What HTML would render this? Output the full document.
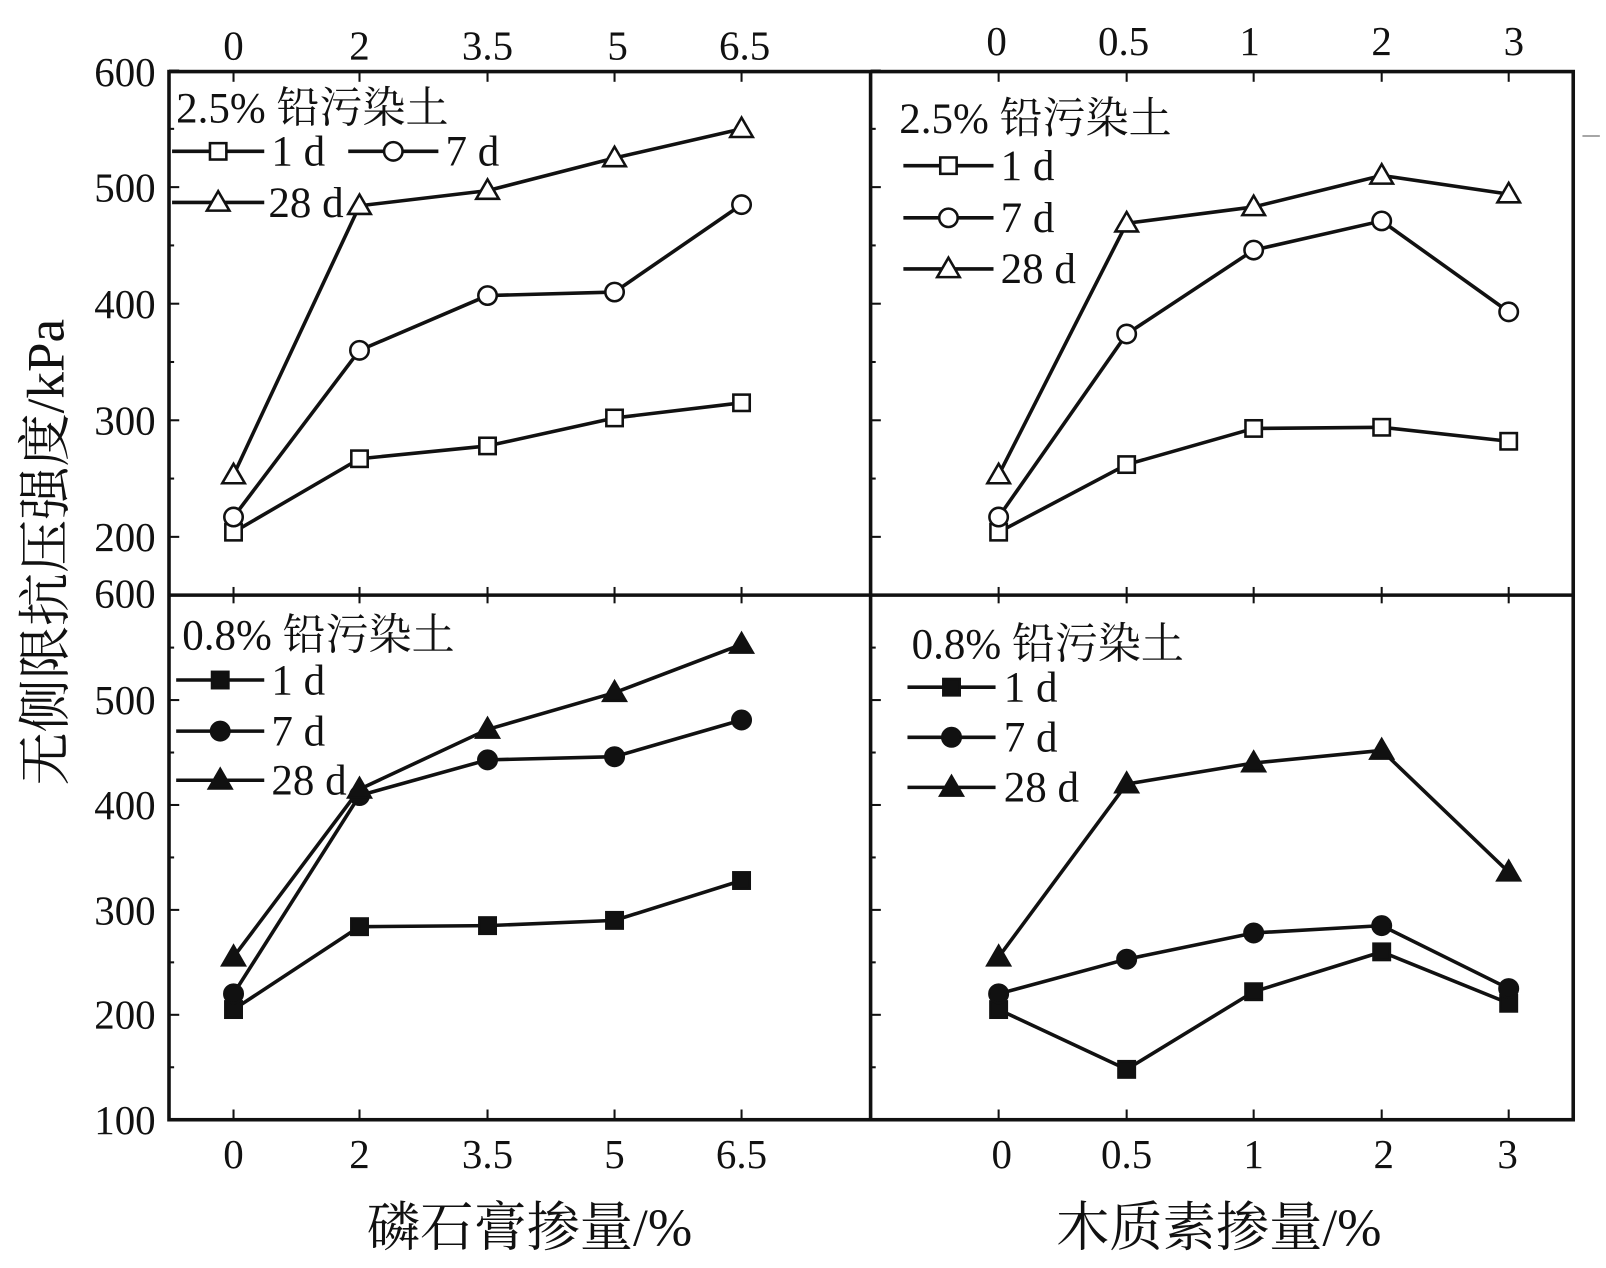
<!DOCTYPE html>
<html><head><meta charset="utf-8"><style>
html,body{margin:0;padding:0;background:#fff;}
svg{display:block;}
text{font-family:"Liberation Serif","Noto Serif CJK SC",serif;fill:#111;}
</style></head><body>
<svg id="s" width="1606" height="1268" viewBox="0 0 1568 1240" preserveAspectRatio="none" xmlns="http://www.w3.org/2000/svg">
<rect x="0" y="0" width="1568" height="1240" fill="#fff"/>
<g id="plot"></g>
<rect x="165" y="70" width="1371" height="1025" fill="none" stroke="#111" stroke-width="3.5"/>
<line x1="850" y1="70" x2="850" y2="1095" stroke="#111" stroke-width="3.5"/>
<line x1="165" y1="582" x2="1536" y2="582" stroke="#111" stroke-width="3.5"/>
<line x1="1545" y1="133" x2="1562" y2="133" stroke="#888" stroke-width="1.5"/>
<g font-size="40" text-anchor="middle">
<text x="228" y="58">0</text><text x="351" y="58">2</text><text x="476" y="58">3.5</text><text x="603" y="58">5</text><text x="727" y="58">6.5</text>
<text x="973" y="54">0</text><text x="1097" y="54">0.5</text><text x="1220" y="54">1</text><text x="1349" y="54">2</text><text x="1478" y="54">3</text>
<text x="228" y="1142">0</text><text x="351" y="1142">2</text><text x="476" y="1142">3.5</text><text x="600" y="1142">5</text><text x="724" y="1142">6.5</text>
<text x="978" y="1142">0</text><text x="1100" y="1142">0.5</text><text x="1224" y="1142">1</text><text x="1351" y="1142">2</text><text x="1472" y="1142">3</text>
</g>
<g font-size="40" text-anchor="end">
<text x="152" y="84">600</text><text x="152" y="197">500</text><text x="152" y="311">400</text><text x="152" y="425">300</text><text x="152" y="539">200</text>
<text x="152" y="594">600</text><text x="152" y="698">500</text><text x="152" y="801">400</text><text x="152" y="904">300</text><text x="152" y="1006">200</text><text x="152" y="1109">100</text>
</g>
<g font-size="42">
<text x="172" y="120">2.5% 铅污染土</text>
<text x="878" y="130">2.5% 铅污染土</text>
<text x="178" y="635">0.8% 铅污染土</text>
<text x="890" y="644">0.8% 铅污染土</text>
<text x="265" y="162">1 d</text><text x="435" y="162">7 d</text><text x="262" y="212">28 d</text>
<text x="977" y="176">1 d</text><text x="977" y="227">7 d</text><text x="977" y="277">28 d</text>
<text x="265" y="679">1 d</text><text x="265" y="729">7 d</text><text x="265" y="777">28 d</text>
<text x="980" y="686">1 d</text><text x="980" y="735">7 d</text><text x="980" y="784">28 d</text>
</g>
<g font-size="52" text-anchor="middle">
<text x="517" y="1218">磷石膏掺量/%</text>
<text x="1190" y="1218">木质素掺量/%</text>
<text transform="translate(62,540) rotate(-90)">无侧限抗压强度/kPa</text>
</g>
</svg>
<script>
var g=document.getElementById('plot');var NS='http://www.w3.org/2000/svg';
function el(t,a){var e=document.createElementNS(NS,t);for(var k in a)e.setAttribute(k,a[k]);g.appendChild(e);return e;}
function line(x1,y1,x2,y2,w){el('line',{x1:x1,y1:y1,x2:x2,y2:y2,stroke:'#111','stroke-width':w||3.5});}
function mk(type,x,y,fill){var f=fill?'#111':'#fff';
 if(type=='s')el('rect',{x:x-8,y:y-8,width:16,height:16,fill:f,stroke:'#111','stroke-width':2.5});
 else if(type=='c')el('circle',{cx:x,cy:y,r:9,fill:f,stroke:'#111','stroke-width':2.5});
 else el('polygon',{points:(x)+','+(y-11)+' '+(x-11)+','+(y+8)+' '+(x+11)+','+(y+8),fill:f,stroke:'#111','stroke-width':2.5});}
var XL=[228,351,476,600,724],XR=[975,1100,1224,1349,1473];
function yT(v){return 525-(v-200)*1.14;} function yB(v){return 1095-(v-100)*1.026;}
function series(X,Y,vals,type,fill){var p=vals.map(function(v,i){return [X[i],Y(v)];});
 for(var i=0;i<p.length-1;i++)line(p[i][0],p[i][1],p[i+1][0],p[i+1][1]);
 p.forEach(function(q){mk(type,q[0],q[1],fill);});}
[XL,XR].forEach(function(X){X.forEach(function(x){line(x,70,x,80,2);line(x,1095,x,1085,2);line(x,582,x,574,2);line(x,582,x,590,2);});});
[165,850].forEach(function(x){
 for(var v=200;v<=600;v+=50){var y=yT(v);line(x,y,x+(v%100?5:10),y,2);}
 for(var v=100;v<=600;v+=50){var y=yB(v);line(x,y,x+(v%100?5:10),y,2);}
});
series(XL,yT,[204,267,278,302,315],'s',0);
series(XL,yT,[217,360,407,410,485],'c',0);
series(XL,yT,[253,484,497,525,550],'t',0);
series(XR,yT,[204,262,293,294,282],'s',0);
series(XR,yT,[217,374,446,471,393],'c',0);
series(XR,yT,[253,469,483,510,494],'t',0);
series(XL,yB,[205,284,285,290,328],'s',1);
series(XL,yB,[220,409,443,446,481],'c',1);
series(XL,yB,[255,415,472,507,553],'t',1);
series(XR,yB,[205,148,222,260,211],'s',1);
series(XR,yB,[220,253,278,285,225],'c',1);
series(XR,yB,[255,420,440,452,336],'t',1);
function leg(x1,x2,y,type,fill){line(x1,y,x2,y);mk(type,(x1+x2)/2,y,fill);}
leg(168,258,148,'s',0);leg(340,428,148,'c',0);leg(168,258,198,'t',0);
leg(882,970,162,'s',0);leg(882,970,213,'c',0);leg(882,970,263,'t',0);
leg(172,258,665,'s',1);leg(172,258,715,'c',1);leg(172,258,763,'t',1);
leg(886,972,672,'s',1);leg(886,972,721,'c',1);leg(886,972,770,'t',1);
</script>
</body></html>
